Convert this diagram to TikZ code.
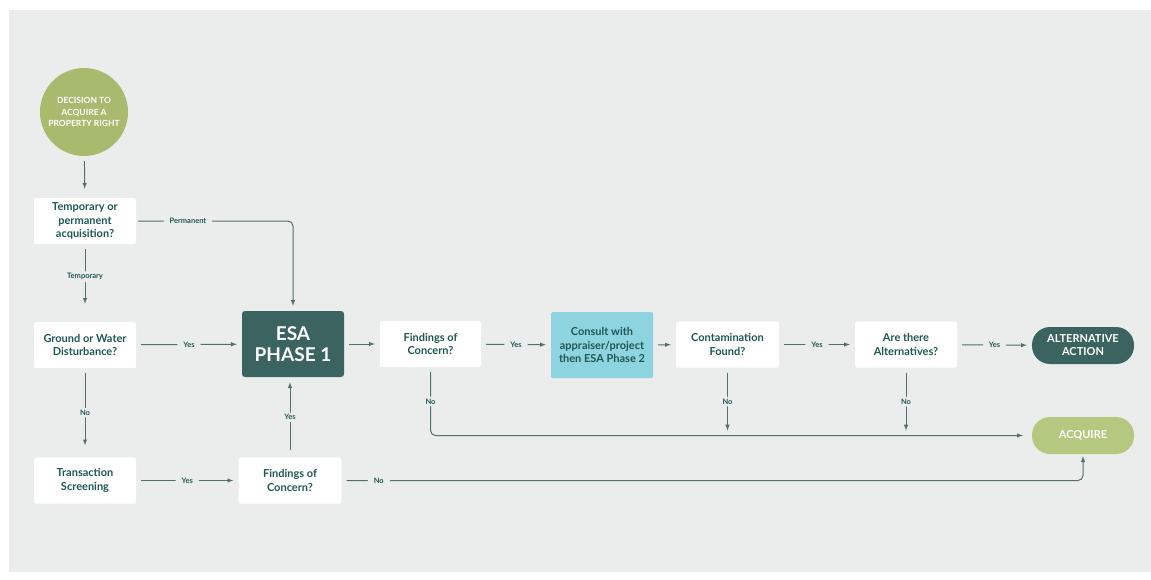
\documentclass[tikz,border=0pt]{standalone}
\usepackage{fontspec}
\setmainfont{Lato}
\usepackage{tikz}
\usetikzlibrary{positioning}
\usetikzlibrary{arrows}
\usetikzlibrary{shapes}
\definecolor{ink}{RGB}{31,88,83}
\definecolor{panel}{RGB}{235,237,236}
\definecolor{wire}{RGB}{80,112,108}
\definecolor{esa}{RGB}{59,100,96}
\definecolor{sage}{RGB}{168,186,110}
\definecolor{lsage}{RGB}{180,200,128}
\definecolor{aqua}{RGB}{142,211,224}

\begin{document}
\begin{tikzpicture}[x=1pt,y=-1pt,>=latex,
  box/.style={rectangle,fill=white,text=ink,font=\bfseries\fontsize{11}{13.4}\selectfont,align=center,minimum width=102pt,minimum height=46pt,inner sep=1pt,rounded corners=1.5pt},
  pill/.style={rectangle,rounded corners=18pt,minimum width=102pt,minimum height=37pt,text=white,font=\bfseries\fontsize{11}{13}\selectfont,align=center,inner sep=1pt},
  lab/.style={fill=panel,text=ink,font=\bfseries\fontsize{7.5}{9}\selectfont,inner xsep=6pt,inner ysep=2pt},
  wire/.style={draw=wire,line width=1pt,shorten <=5pt,shorten >=5pt,rounded corners=5pt}]

\fill[white] (0,0) rectangle (1151,579);
\fill[panel] (9,10) rectangle (1151,572);

% nodes
\node[circle,fill=sage,minimum size=88pt,text=white,align=center,font=\bfseries\fontsize{8.5}{11.5}\selectfont] (decision) at (84,112) {DECISION TO\\ACQUIRE A\\PROPERTY RIGHT};
\node[box] (temp) at (85,221) {Temporary or\\permanent\\acquisition?};
\node[box] (ground) at (85,345) {Ground or Water\\Disturbance?};
\node[box] (screen) at (85,480.5) {Transaction\\Screening};
\node[rectangle,fill=esa,rounded corners=3pt,minimum width=102pt,minimum height=66pt,text=white,align=center,font=\bfseries\fontsize{19}{21}\selectfont] (phase1) at (293,344) {ESA\\PHASE 1};
\node[box,minimum width=103pt] (concern2) at (290,480.5) {Findings of\\Concern?};
\node[box,minimum width=101pt] (concern1) at (430.5,344) {Findings of\\Concern?};
\node[box,fill=aqua,minimum height=66pt] (consult) at (602,345) {Consult with\\appraiser/project\\then ESA Phase 2};
\node[box,minimum width=103pt] (contam) at (727.5,344.5) {Contamination\\Found?};
\node[box] (alts) at (906,344.5) {Are there\\Alternatives?};
\node[pill,fill=esa] (altaction) at (1083,345.5) {ALTERNATIVE\\ACTION};
\node[pill,fill=lsage] (acquire) at (1083,435.5) {ACQUIRE};

\coordinate (permcorner) at (temp.east -| phase1.north);
\coordinate (yesend) at (concern2.north |- phase1.south);
\coordinate (nocorner1) at (concern1.south |- acquire.west);
\coordinate (nocorner2) at (concern2.east -| acquire.south);
\coordinate (contamend) at (contam.south |- acquire.west);
\coordinate (altsend) at (alts.south |- acquire.west);

% connectors
\draw[wire,->,shorten >=9pt] (decision) -- (temp);
\draw[wire,->,shorten >=18pt] (temp) -- node[lab,pos=0.42]{Temporary} (ground);
\draw[wire,->,shorten <=2pt] (temp.east) -- node[lab,pos=0.33]{Permanent} (permcorner) -- (phase1.north);
\draw[wire,->] (ground) -- node[lab]{Yes} (phase1);
\draw[wire,->,shorten >=12pt] (ground) -- node[lab]{No} (screen);
\draw[wire,->] (screen) -- node[lab]{Yes} (concern2);
\draw[wire,->,shorten <=7pt] (concern2.north) -- node[lab]{Yes} (yesend);
\draw[wire,->,shorten >=2pt] (concern2.east) -- node[lab,pos=0.05]{No} (nocorner2) -- (acquire.south);
\draw[wire,->] (phase1) -- (concern1);
\draw[wire,->] (concern1) -- node[lab]{Yes} (consult);
\draw[wire,->] (consult) -- (contam);
\draw[wire,->] (contam) -- node[lab]{Yes} (alts);
\draw[wire,->] (alts) -- node[lab]{Yes} (altaction);
\draw[wire,->,shorten >=9pt] (concern1.south) -- node[lab]{No} (nocorner1) -- (acquire.west);
\draw[wire,->] (contam.south) -- node[lab]{No} (contamend);
\draw[wire,->] (alts.south) -- node[lab]{No} (altsend);
\end{tikzpicture}
\end{document}
